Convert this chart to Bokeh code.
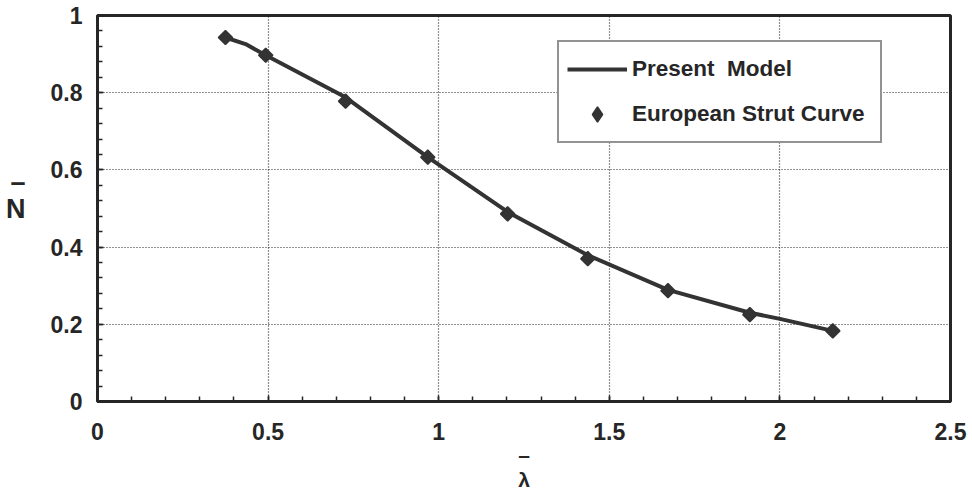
import numpy as np
from bokeh.plotting import figure
from bokeh.models import Range1d, FixedTicker, Legend, LegendItem
from bokeh.embed import file_html
from bokeh.resources import INLINE

# ---- data ----
model_x = [0.375, 0.434, 0.493, 0.727, 0.968, 1.202, 1.437, 1.672, 1.912, 2.0, 2.155]
model_y = [0.943, 0.926, 0.897, 0.788, 0.633, 0.491, 0.379, 0.289, 0.230, 0.214, 0.183]

strut_x = [0.375, 0.493, 0.727, 0.968, 1.202, 1.437, 1.672, 1.912, 2.155]
strut_y = [0.943, 0.897, 0.778, 0.633, 0.486, 0.370, 0.287, 0.225, 0.183]

x_ticks = [0, 0.5, 1, 1.5, 2, 2.5]
x_tick_labels = ["0", "0.5", "1", "1.5", "2", "2.5"]
y_ticks = [0, 0.2, 0.4, 0.6, 0.8, 1]
y_tick_labels = ["0", "0.2", "0.4", "0.6", "0.8", "1"]

x_minor = [round(i * 0.1, 2) for i in range(26)]
y_minor = [round(i * 0.04, 2) for i in range(26)]

INK = "#262626"
FONT = "Liberation Sans"

p = figure(width=970, height=493, output_backend="svg", toolbar_location=None,
           x_range=Range1d(0, 2.5), y_range=Range1d(0, 1),
           min_border_left=97, min_border_right=20, min_border_top=15, min_border_bottom=91)
p.background_fill_color = "white"
p.border_fill_color = "white"
p.outline_line_color = INK
p.outline_line_width = 3

p.xaxis.ticker = FixedTicker(ticks=x_ticks, minor_ticks=x_minor)
p.yaxis.ticker = FixedTicker(ticks=y_ticks, minor_ticks=y_minor)
p.xaxis.major_label_overrides = {t: l for t, l in zip(x_ticks, x_tick_labels)}
p.yaxis.major_label_overrides = {t: l for t, l in zip(y_ticks, y_tick_labels)}

for ax in (p.xaxis, p.yaxis):
    ax.axis_line_color = INK
    ax.axis_line_width = 3
    ax.major_tick_in = 6
    ax.major_tick_out = 0
    ax.minor_tick_in = 5
    ax.minor_tick_out = 0
    ax.major_tick_line_color = INK
    ax.minor_tick_line_color = INK
    ax.major_tick_line_width = 1.5
    ax.minor_tick_line_width = 1.5
    ax.major_label_text_font = FONT
    ax.major_label_text_font_style = "bold"
    ax.major_label_text_font_size = "23px"
    ax.major_label_text_color = INK
    ax.axis_label_text_font = FONT
    ax.axis_label_text_font_style = "bold"
    ax.axis_label_text_color = INK

p.xaxis.major_label_standoff = 21
p.yaxis.major_label_standoff = 15

p.xaxis.axis_label = "\u2013\n\u03bb"
p.xaxis.axis_label_text_font_size = "21px"
p.xaxis.axis_label_text_line_height = 1.1
p.xaxis.axis_label_standoff = 0
p.yaxis.axis_label = "\u2013\nN\n\u00a0"
p.yaxis.axis_label_text_font_size = "27px"
p.yaxis.axis_label_text_line_height = 0.9
p.yaxis.axis_label_orientation = "horizontal"
p.yaxis.axis_label_standoff = 22

p.grid.grid_line_color = "#222222"
p.grid.grid_line_width = 1.2
p.grid.grid_line_dash = "1 2"

line_r = p.line(model_x, model_y, line_color="#333333", line_width=4)
pts_r = p.scatter(strut_x, strut_y, marker="square", angle=np.pi / 4, size=10,
                  fill_color="#333333", line_color="#333333", line_width=1.5)
# legend-only glyph (same data, hidden): drawn as a diamond in the legend box
key_r = p.scatter(strut_x, strut_y, marker="diamond", size=10,
                  fill_color="#333333", line_color="#333333", line_width=1.5,
                  visible=False)

legend = Legend(items=[LegendItem(label="Present  Model", renderers=[line_r]),
                       LegendItem(label="European Strut Curve", renderers=[key_r])],
                location=(460, 258))
legend.border_line_color = INK
legend.border_line_width = 2
legend.background_fill_color = "white"
legend.background_fill_alpha = 1
legend.label_text_font = FONT
legend.label_text_font_style = "bold"
legend.label_text_font_size = "22.5px"
legend.label_text_color = INK
legend.glyph_width = 60
legend.glyph_height = 38
legend.label_height = 38
legend.label_width = 240
legend.label_standoff = 5
legend.spacing = 7
legend.padding = 8
legend.margin = 0
p.add_layout(legend, "center")

open("out.html", "w").write(file_html(p, INLINE))
